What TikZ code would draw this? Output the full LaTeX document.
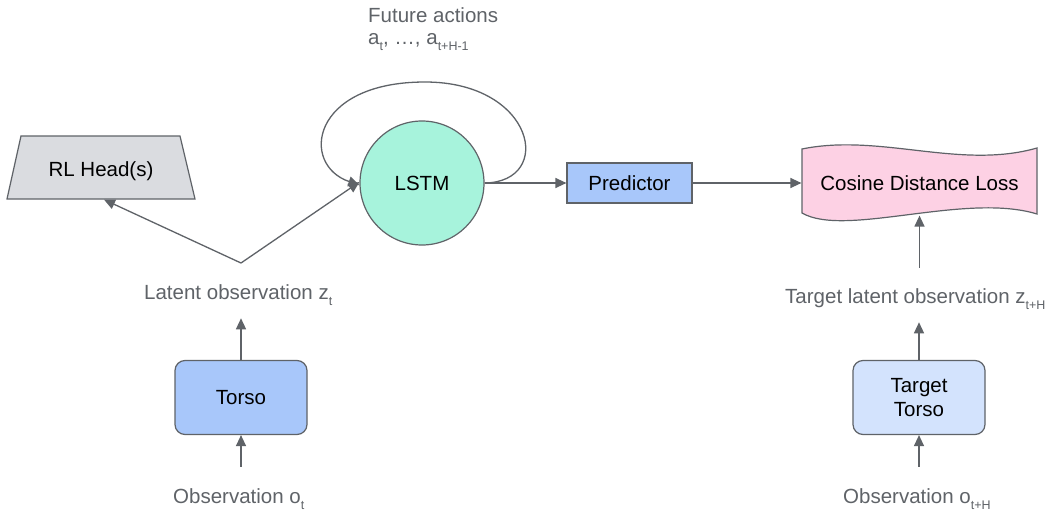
\documentclass[tikz,border=0pt]{standalone}
\usepackage{fontspec}
\setmainfont{Liberation Sans}
\usetikzlibrary{arrows.meta}
\definecolor{lc}{HTML}{5F6368}
\definecolor{tc}{HTML}{5F6368}
\definecolor{blueA}{HTML}{A8C7FA}
\definecolor{blueB}{HTML}{D3E3FD}
\definecolor{mint}{HTML}{A7F3DC}
\definecolor{pinkC}{HTML}{FDD1E4}
\definecolor{grayH}{HTML}{DADCE0}
\newcommand\subs[1]{\raisebox{-6pt}{\fontsize{12.5}{13}\selectfont #1}}
\begin{document}
\begin{tikzpicture}[x=1pt,y=-1pt,
  base/.style={draw=lc, line width=1.2pt, font=\fontsize{20.5}{24}\selectfont, text=black},
  outline/.style={draw=lc, line width=1.2pt},
  lbl/.style={inner sep=0pt, text=tc, font=\fontsize{20.5}{24}\selectfont, anchor=base west},
  arr/.style={draw=lc, line width=1.3pt, -{Triangle[length=11pt,width=10pt]}}]
\useasboundingbox (0,0) rectangle (1052,511);
\fill[white] (0,0) rectangle (1052,511);

% trapezoid of the RL head
\filldraw[outline, fill=grayH] (7,199) -- (195,199) -- (180,136) -- (21,136) -- cycle;
% tape outline of the loss box
\filldraw[outline, fill=pinkC]
  (802,149) .. controls (880,133) and (960,170) .. (1037,148)
  -- (1037,214) .. controls (965,192) and (845,238) .. (802,213) -- cycle;

\node[base, draw=none, rectangle, minimum width=188pt, minimum height=56pt] (rl) at (101,171) {RL Head(s)};
\node[base, draw=none, rectangle, minimum width=235pt, minimum height=66pt] (loss) at (919.5,183) {Cosine Distance Loss};
\node[base, circle, minimum size=124pt, fill=mint, inner sep=0pt] (lstm) at (422,183) {LSTM};
\node[base, rectangle, minimum width=125pt, minimum height=40pt, fill=blueA] (pred) at (629.5,183) {Predictor};
\node[base, rounded corners=10pt, minimum width=132pt, minimum height=74pt, fill=blueA] (torso) at (241,397.5) {Torso};
\node[base, rounded corners=10pt, minimum width=132pt, minimum height=74pt, fill=blueB, align=center] (ttorso) at (919,397.5) {Target\\Torso};

\node[lbl] (lat) at (144,299) {Latent observation z\subs{t}};
\node[lbl] (tlat) at (785,303) {Target latent observation z\subs{t+H}};
\node[lbl] (obs) at (173,503) {Observation o\subs{t}};
\node[lbl] (tobs) at (843,503) {Observation o\subs{t+H}};
\node[lbl] (fut) at (368,23) {Future actions};
\node[lbl] (acts) at (368,45) {a\subs{t}, …, a\subs{t+H-1}};

\coordinate (branch) at (241,263);
\coordinate (looptop) at (425,82);
\draw[arr] (branch) -- ([xshift=3pt]rl.south);
\draw[arr] (branch) -- ([yshift=1pt]lstm.west);
\draw[arr] (lstm.east) .. controls (555,182) and (535,82) .. (looptop) .. controls (310,82) and (300,165) .. ([yshift=-2pt]lstm.west);
\draw[arr] (lstm.east) -- (pred.west);
\draw[arr] (pred.east) -- (loss.west);
\draw[arr, shorten <=20pt] (loss.south |- tlat.north) -- ([yshift=1pt]loss.south);
\draw[arr, shorten >=13pt] (torso.north) -- (torso.north |- lat.south);
\draw[arr, shorten >=13pt] (ttorso.north) -- (ttorso.north |- tlat.south);
\draw[arr, shorten <=21pt] (torso.south |- obs.north) -- (torso.south);
\draw[arr, shorten <=21pt] (ttorso.south |- tobs.north) -- (ttorso.south);
\end{tikzpicture}
\end{document}
